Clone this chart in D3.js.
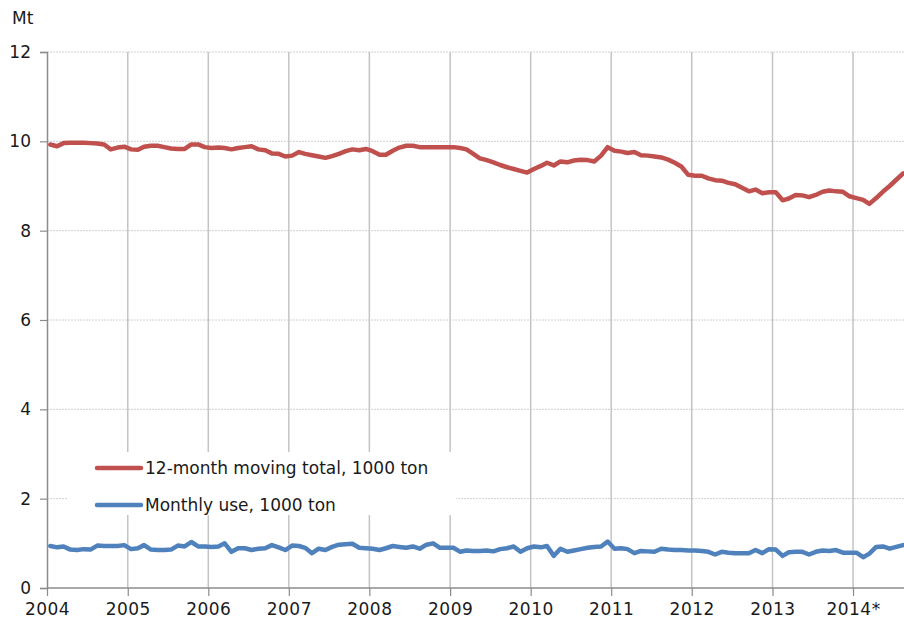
<!DOCTYPE html>
<html><head><meta charset="utf-8">
<script src="https://cdn.jsdelivr.net/npm/d3@7"></script>
<style>
html,body{margin:0;padding:0;background:#fff;}
svg{display:block;font-family:"DejaVu Sans",Verdana,sans-serif;}
</style></head>
<body>
<svg id="chart" width="904" height="628"></svg>
<script>
const yearLabels = ["2004","2005","2006","2007","2008","2009","2010","2011","2012","2013","2014*"];
const yTicks = [0,2,4,6,8,10,12];
const seriesNames = ["12-month moving total, 1000 ton","Monthly use, 1000 ton"];
const seriesColors = ["#c0504d","#4f81bd"];
// Monthly values Jan 2004 .. Aug 2014 (Mt)
const movingTotal = [
 9.93,9.89,9.96,9.97,9.97,9.97,9.96,9.95,9.93,9.82,9.86,9.88,
 9.82,9.81,9.88,9.90,9.90,9.87,9.84,9.83,9.83,9.93,9.93,9.87,
 9.85,9.86,9.85,9.82,9.85,9.87,9.89,9.82,9.80,9.73,9.72,9.66,
 9.68,9.76,9.72,9.69,9.66,9.63,9.67,9.72,9.78,9.82,9.80,9.83,
 9.78,9.70,9.70,9.79,9.86,9.90,9.90,9.87,9.87,9.87,9.87,9.87,
 9.87,9.85,9.82,9.72,9.62,9.58,9.53,9.47,9.42,9.38,9.34,9.30,
 9.38,9.45,9.52,9.46,9.55,9.53,9.57,9.59,9.58,9.55,9.68,9.87,
 9.79,9.77,9.74,9.76,9.69,9.68,9.66,9.64,9.59,9.52,9.43,9.25,
 9.23,9.23,9.17,9.13,9.12,9.07,9.04,8.96,8.88,8.92,8.84,8.86,
 8.86,8.68,8.72,8.80,8.79,8.75,8.80,8.87,8.90,8.88,8.87,8.77,
 8.73,8.69,8.60,8.73,8.87,9.00,9.14,9.28
];
const monthlyUse = [
 0.94,0.91,0.93,0.86,0.85,0.87,0.86,0.95,0.94,0.94,0.94,0.96,
 0.87,0.89,0.96,0.86,0.85,0.85,0.86,0.95,0.93,1.03,0.93,0.93,
 0.92,0.93,1.00,0.81,0.89,0.89,0.85,0.88,0.89,0.96,0.91,0.85,
 0.95,0.94,0.90,0.78,0.88,0.85,0.92,0.97,0.98,0.99,0.90,0.89,
 0.88,0.85,0.89,0.94,0.92,0.90,0.93,0.88,0.97,1.00,0.90,0.90,
 0.90,0.81,0.84,0.83,0.83,0.84,0.82,0.87,0.89,0.93,0.81,0.89,
 0.93,0.91,0.94,0.72,0.88,0.81,0.84,0.87,0.90,0.92,0.93,1.04,
 0.88,0.89,0.87,0.78,0.83,0.82,0.81,0.88,0.86,0.85,0.85,0.84,
 0.84,0.83,0.81,0.75,0.81,0.79,0.78,0.78,0.78,0.85,0.78,0.87,
 0.86,0.72,0.80,0.81,0.81,0.75,0.81,0.84,0.83,0.85,0.79,0.79,
 0.79,0.69,0.77,0.92,0.93,0.88,0.92,0.96
];

const svg = d3.select("#chart");
const pLeft = 47, pRight = 904, pTop = 52, pBottom = 588;
const fs = 17;
const dates = movingTotal.map((_, i) => new Date(2004, i, 16));
const x = d3.scaleTime().domain([new Date(2004,0,1), new Date(2014,7,20)]).range([pLeft, pRight]);
const y = d3.scaleLinear().domain([0,12]).range([pBottom, pTop]);
const yearDates = yearLabels.map((_, i) => new Date(2004 + i, 0, 1));

// horizontal gridlines (dashed)
svg.append("g").selectAll("line").data(yTicks.filter(d => d > 0)).join("line")
  .attr("x1", pLeft).attr("x2", pRight)
  .attr("y1", d => y(d)).attr("y2", d => y(d))
  .attr("stroke", "#d0d0d0").attr("stroke-width", 1).attr("stroke-dasharray", "2,1");
// vertical gridlines
svg.append("g").selectAll("line").data(yearDates.slice(1)).join("line")
  .attr("x1", d => x(d)).attr("x2", d => x(d))
  .attr("y1", pTop).attr("y2", pBottom)
  .attr("stroke", "#c4c4c4").attr("stroke-width", 1.5);

// y axis
const yAxis = svg.append("g").attr("transform", `translate(${pLeft},0)`)
  .call(d3.axisLeft(y).tickValues(yTicks).tickSize(7).tickPadding(9).tickFormat(d3.format("d")));
yAxis.select(".domain").attr("stroke", "#8c8c8c").attr("stroke-width", 1.5);
yAxis.selectAll(".tick line").attr("stroke", "#8c8c8c").attr("stroke-width", 1.2);
yAxis.selectAll("text").attr("font-size", fs).attr("fill", "#1a1a1a").attr("font-family", "DejaVu Sans");

// x axis
const xAxis = svg.append("g").attr("transform", `translate(0,${pBottom})`)
  .call(d3.axisBottom(x).tickValues(yearDates).tickSize(8).tickPadding(7)
    .tickFormat((d, i) => yearLabels[i]));
xAxis.select(".domain").attr("stroke", "#8c8c8c").attr("stroke-width", 1.5).attr("d", `M${pLeft},0H${pRight}`);
xAxis.selectAll(".tick line").attr("stroke", "#8c8c8c").attr("stroke-width", 1.2);
xAxis.selectAll("text").attr("font-size", fs).attr("fill", "#1a1a1a").attr("font-family", "DejaVu Sans")
  .attr("letter-spacing", 0.5);

// unit label
svg.append("text").attr("x", 12).attr("y", 24).text("Mt")
  .attr("font-size", fs).attr("fill", "#1a1a1a");

// legend box (white, covers gridlines)
svg.append("rect").attr("x", 67).attr("y", 452).attr("width", 389).attr("height", 63).attr("fill", "#fff");

// series
const line = d3.line().x((d, i) => x(dates[i])).y(d => y(d)).curve(d3.curveLinear);
[movingTotal, monthlyUse].forEach((s, k) => {
  svg.append("path").datum(s).attr("d", line).attr("fill", "none")
    .attr("stroke", seriesColors[k]).attr("stroke-width", 4.5)
    .attr("stroke-linejoin", "round").attr("stroke-linecap", "round");
});

// legend
const lg = svg.append("g");
seriesNames.forEach((n, k) => {
  const yy = 468 + k * 37;
  lg.append("line").attr("x1", 97).attr("x2", 141).attr("y1", yy).attr("y2", yy)
    .attr("stroke", seriesColors[k]).attr("stroke-width", 4.5).attr("stroke-linecap", "round");
  lg.append("text").attr("x", 145).attr("y", yy + 6).text(n)
    .attr("font-size", fs).attr("fill", "#1a1a1a");
});
</script>
</body></html>
